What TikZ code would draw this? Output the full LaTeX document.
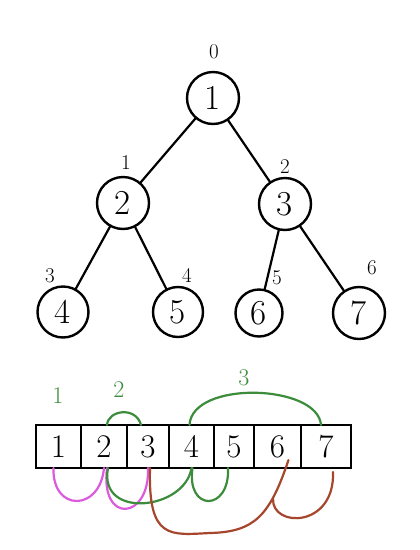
\documentclass[tikz,border=0pt]{standalone}
\usepackage{fontspec}
\usepackage{xcolor}
\definecolor{hgreen}{RGB}{60,140,60}
\definecolor{hpink}{RGB}{220,90,220}
\definecolor{hbrown}{RGB}{165,70,45}
\usepackage{tikz}
\usetikzlibrary{positioning, calc}
\tikzset{
  treenode/.style={draw, circle, line width=2.4pt, minimum size=52pt, inner sep=0pt,
                   font=\fontsize{35}{40}\selectfont},
  idxlabel/.style={font=\fontsize{21}{25}\selectfont},
  cell/.style={draw, line width=2.4pt, minimum height=43pt, inner sep=0pt, outer sep=0pt,
               font=\fontsize{33}{38}\selectfont},
  grouplabel/.style={font=\fontsize{24}{28}\selectfont, hgreen},
  link/.style={line width=2.2pt, line cap=round}
}

\begin{document}
\begin{tikzpicture}[x=1pt, y=-1pt]
  \useasboundingbox[fill=white] (0,0) rectangle (420,550);

  % Tree nodes
  \node[treenode] (n1) at (213,98) {1};
  \node[treenode] (n2) at (123,203) {2};
  \node[treenode] (n3) at (285,204) {3};
  \node[treenode, minimum size=51pt] (n4) at (63,312) {4};
  \node[treenode, minimum size=50pt] (n5) at (178,312) {5};
  \node[treenode, minimum size=47pt] (n6) at (259,313) {6};
  \node[treenode] (n7) at (359,313) {7};

  % Index labels
  \node[idxlabel] (i0) at (214,52) {0};
  \node[idxlabel] (i1) at (126,163) {1};
  \node[idxlabel] (i2) at (285,167) {2};
  \node[idxlabel] (i3) at (50,276) {3};
  \node[idxlabel] (i4) at (187,275) {4};
  \node[idxlabel] (i5) at (277,278) {5};
  \node[idxlabel] (i6) at (372,268) {6};

  % Tree edges
  \draw[link] (n1) -- (n2);
  \draw[link] (n1) -- (n3);
  \draw[link] (n2) -- (n4);
  \draw[link] (n2) -- (n5);
  \draw[link] (n3) -- (n6);
  \draw[link] (n3) -- (n7);

  % Array cells
  \node[cell, minimum width=45pt] (c1) at (58.5,446.5) {1};
  \node[cell, minimum width=46pt] (c2) at (104,446.5) {2};
  \node[cell, minimum width=42pt] (c3) at (148,446.5) {3};
  \node[cell, minimum width=45pt] (c4) at (191.5,446.5) {4};
  \node[cell, minimum width=40pt] (c5) at (234,446.5) {5};
  \node[cell, minimum width=47pt] (c6) at (277.5,446.5) {6};
  \node[cell, minimum width=50pt] (c7) at (326,446.5) {7};

  % Level labels
  \node[grouplabel] (g1) at (58,396) {1};
  \node[grouplabel] (g2) at (119,390) {2};
  \node[grouplabel] (g3) at (244,378) {3};

  % Level arcs above the array
  \draw[link, hgreen] ($(c2.north)+(3,0)$) .. controls (108,410) and (136,406) .. ($(c3.north west)+(14,0)$);
  \draw[link, hgreen] ($(c4.north)+(-2,0)$) .. controls (192,380) and (318,384) .. ($(c7.north west)+(20,0)$);

  % Parent to child links below the array
  \draw[link, hpink] ($(c1.south)+(-5,0)$) .. controls (52,512) and (100,512) .. (c2.south);
  \draw[link, hpink] ($(c2.south)+(3,0)$) .. controls (100,525) and (150,520) .. (c3.south);
  \draw[link, hgreen] ($(c2.south)+(4,0)$) .. controls (98,520) and (185,510) .. (c4.south);
  \draw[link, hgreen] ($(c4.south)+(1,0)$) .. controls (186,512) and (230,512) .. ($(c5.south)+(-6,0)$);
  \draw[link, hbrown] ($(c3.south)+(2,0)$) .. controls (148,540) and (170,535) .. (210,533)
                      .. controls (255,532) and (270,515) .. ($(c6.south)+(11,-8)$);
  \draw[link, hbrown] (273,499) .. controls (272,528) and (335,528) .. ($(c7.south)+(7,4)$);
\end{tikzpicture}
\end{document}
